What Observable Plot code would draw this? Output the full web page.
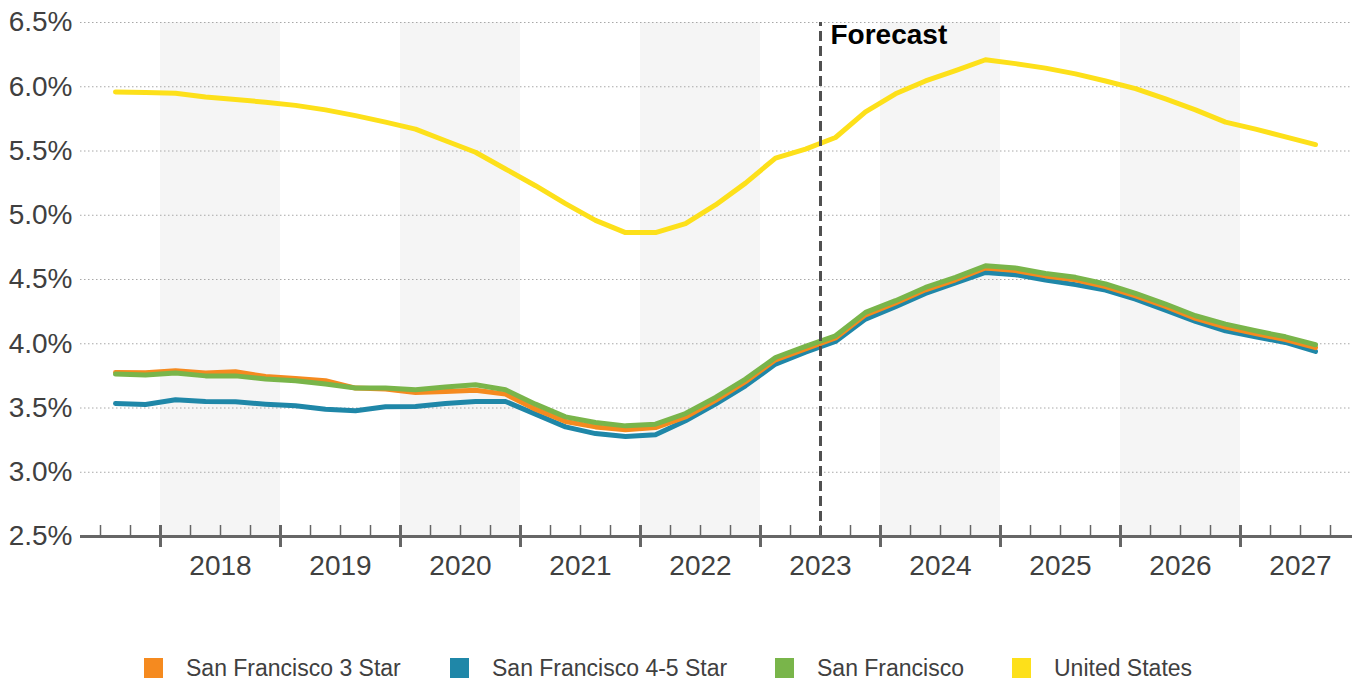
<!DOCTYPE html>
<html>
<head>
<meta charset="utf-8">
<script src="https://cdn.jsdelivr.net/npm/d3@7"></script>
<script src="https://cdn.jsdelivr.net/npm/@observablehq/plot@0.6"></script>
<style>
  html, body { margin: 0; padding: 0; background: #fff; }
  body { width: 1362px; height: 684px; overflow: hidden; font-family: "Liberation Sans", Arial, sans-serif; }
  #legend { position: relative; height: 84px; }
  .item { position: absolute; top: 58px; display: flex; align-items: center; }
  .sw { width: 19px; height: 20px; margin-right: 23px; }
  .lbl { font-size: 23px; color: #404040; line-height: 20px; }
</style>
</head>
<body>
<div id="chart"></div>
<div id="legend"></div>
<script>
// Quarters: 2017 Q3 through 2027 Q3
const quarters = [
  "2017Q3","2017Q4",
  "2018Q1","2018Q2","2018Q3","2018Q4",
  "2019Q1","2019Q2","2019Q3","2019Q4",
  "2020Q1","2020Q2","2020Q3","2020Q4",
  "2021Q1","2021Q2","2021Q3","2021Q4",
  "2022Q1","2022Q2","2022Q3","2022Q4",
  "2023Q1","2023Q2","2023Q3","2023Q4",
  "2024Q1","2024Q2","2024Q3","2024Q4",
  "2025Q1","2025Q2","2025Q3","2025Q4",
  "2026Q1","2026Q2","2026Q3","2026Q4",
  "2027Q1","2027Q2","2027Q3"
];

const unitedStates = [
  5.96, 5.955,
  5.95, 5.92, 5.90, 5.88,
  5.855, 5.82, 5.775, 5.725,
  5.67, 5.58, 5.49, 5.36,
  5.23, 5.09, 4.96, 4.865,
  4.865, 4.935, 5.08, 5.25,
  5.445, 5.515, 5.605, 5.805,
  5.945, 6.045, 6.125, 6.21,
  6.18, 6.145, 6.10, 6.045,
  5.985, 5.905, 5.82, 5.725,
  5.67, 5.61, 5.55
];

const sf3Star = [
  3.777, 3.775,
  3.79, 3.772, 3.782, 3.745,
  3.73, 3.712, 3.655, 3.647,
  3.621, 3.628, 3.638, 3.608,
  3.491, 3.395, 3.353, 3.33,
  3.348, 3.43, 3.56, 3.705,
  3.875, 3.96, 4.045, 4.225,
  4.318, 4.42, 4.498, 4.59,
  4.57, 4.528, 4.497, 4.445,
  4.372, 4.29, 4.198, 4.13,
  4.08, 4.032, 3.97
];

const sf45Star = [
  3.535, 3.527,
  3.564, 3.551, 3.548, 3.53,
  3.517, 3.491, 3.478, 3.509,
  3.512, 3.535, 3.551, 3.551,
  3.452, 3.353, 3.301, 3.278,
  3.291, 3.40, 3.53, 3.673,
  3.842, 3.935, 4.018, 4.192,
  4.288, 4.392, 4.473, 4.555,
  4.537, 4.496, 4.46, 4.418,
  4.348, 4.262, 4.174, 4.101,
  4.054, 4.01, 3.94
];

const sanFrancisco = [
  3.764, 3.756,
  3.772, 3.75, 3.75, 3.725,
  3.712, 3.686, 3.655, 3.655,
  3.642, 3.664, 3.681, 3.642,
  3.53, 3.431, 3.387, 3.361,
  3.374, 3.457, 3.582, 3.725,
  3.893, 3.98, 4.062, 4.244,
  4.335, 4.438, 4.516, 4.607,
  4.589, 4.547, 4.517, 4.465,
  4.392, 4.309, 4.218, 4.153,
  4.101, 4.054, 3.992
];

const seriesNames = ["San Francisco 4-5 Star", "San Francisco 3 Star", "San Francisco", "United States"];
const seriesValues = [sf45Star, sf3Star, sanFrancisco, unitedStates];
const legendOrder = ["San Francisco 3 Star", "San Francisco 4-5 Star", "San Francisco", "United States"];
const colors = {
  "San Francisco 3 Star": "#f58a1f",
  "San Francisco 4-5 Star": "#1f87a8",
  "San Francisco": "#79b54a",
  "United States": "#fde01a"
};

const yTicks = [2.5, 3.0, 3.5, 4.0, 4.5, 5.0, 5.5, 6.0, 6.5];
const gridTicks = [3.0, 3.5, 4.0, 4.5, 5.0, 5.5, 6.0, 6.5];
const shadedYears = [2018, 2020, 2022, 2024, 2026];
const yearBoundaries = [2018, 2019, 2020, 2021, 2022, 2023, 2024, 2025, 2026, 2027];
const yearLabels = [2018, 2019, 2020, 2021, 2022, 2023, 2024, 2025, 2026, 2027];
const forecastStart = 2023.5;
const forecastLabel = "Forecast";

// quarter string -> decimal year at the middle of the quarter
const qx = q => +q.slice(0, 4) + (+q.slice(5) - 0.5) / 4;

const rows = [];
seriesNames.forEach((name, i) => {
  quarters.forEach((q, j) => rows.push({series: name, t: qx(q), v: seriesValues[i][j]}));
});

// quarter boundaries (minor ticks)
const minorTicks = [];
for (let y = 2017; y <= 2027; y++) {
  for (let k = 1; k < 4; k++) {
    const t = y + k / 4;
    if (t > 2017.34 && t < 2027.93) minorTicks.push(t);
  }
}

const font = "'Liberation Sans', Arial, sans-serif";

const chart = Plot.plot({
  width: 1362,
  height: 600,
  marginLeft: 80,
  marginRight: 10,
  marginTop: 22,
  marginBottom: 64,
  style: {fontFamily: font, color: "#404040", background: "#fff"},
  x: {domain: [2017 + 1/3, 2027 + 14/15], axis: null},
  y: {domain: [2.5, 6.5], axis: null},
  marks: [
    Plot.rectY(shadedYears, {x1: d => d, x2: d => d + 1, y1: 2.5, y2: 6.5, fill: "#f5f5f5"}),
    Plot.ruleY(gridTicks, {stroke: "#a8a8a8", strokeWidth: 1, strokeDasharray: "1.5,2.5"}),
    Plot.axisY(yTicks, {
      anchor: "left", tickSize: 0, tickPadding: 8, fontSize: 28,
      tickFormat: d => d.toFixed(1) + "%", label: null, fill: "#404040"
    }),
    Plot.line(rows, {
      x: "t", y: "v", z: "series",
      stroke: d => colors[d.series],
      strokeWidth: 5, strokeLinejoin: "round", strokeLinecap: "round"
    }),
    Plot.ruleX([forecastStart], {y1: 2.5, y2: 6.5, stroke: "#505050", strokeWidth: 3, strokeDasharray: "10,5"}),
    Plot.text([forecastLabel], {
      x: forecastStart, y: 6.5, text: d => d, textAnchor: "start", lineAnchor: "top",
      dx: 10, dy: 2, fontSize: 28, fontWeight: "bold", fill: "#000"
    }),
    Plot.ruleY([2.5], {stroke: "#666", strokeWidth: 3}),
    Plot.axisX(minorTicks, {
      anchor: "bottom", tickSize: 11, dy: -11, tickFormat: () => "", label: null,
      stroke: "#666", strokeWidth: 1.5
    }),
    Plot.axisX(yearBoundaries, {
      anchor: "bottom", tickSize: 22, dy: -11, tickFormat: () => "", label: null,
      stroke: "#666", strokeWidth: 3
    }),
    Plot.axisX(yearLabels.map(y => y + 0.5), {
      anchor: "bottom", tickSize: 0, tickPadding: 19, fontSize: 28,
      tickFormat: d => String(Math.floor(d)), label: null, fill: "#404040"
    })
  ]
});
document.getElementById("chart").appendChild(chart);

// legend
const legendLeft = [144, 450, 775, 1012];
const legend = document.getElementById("legend");
legendOrder.forEach((name, i) => {
  const item = document.createElement("div");
  item.className = "item";
  item.style.left = legendLeft[i] + "px";
  const sw = document.createElement("div");
  sw.className = "sw";
  sw.style.background = colors[name];
  const lbl = document.createElement("span");
  lbl.className = "lbl";
  lbl.textContent = name;
  item.appendChild(sw);
  item.appendChild(lbl);
  legend.appendChild(item);
});
</script>
</body>
</html>
